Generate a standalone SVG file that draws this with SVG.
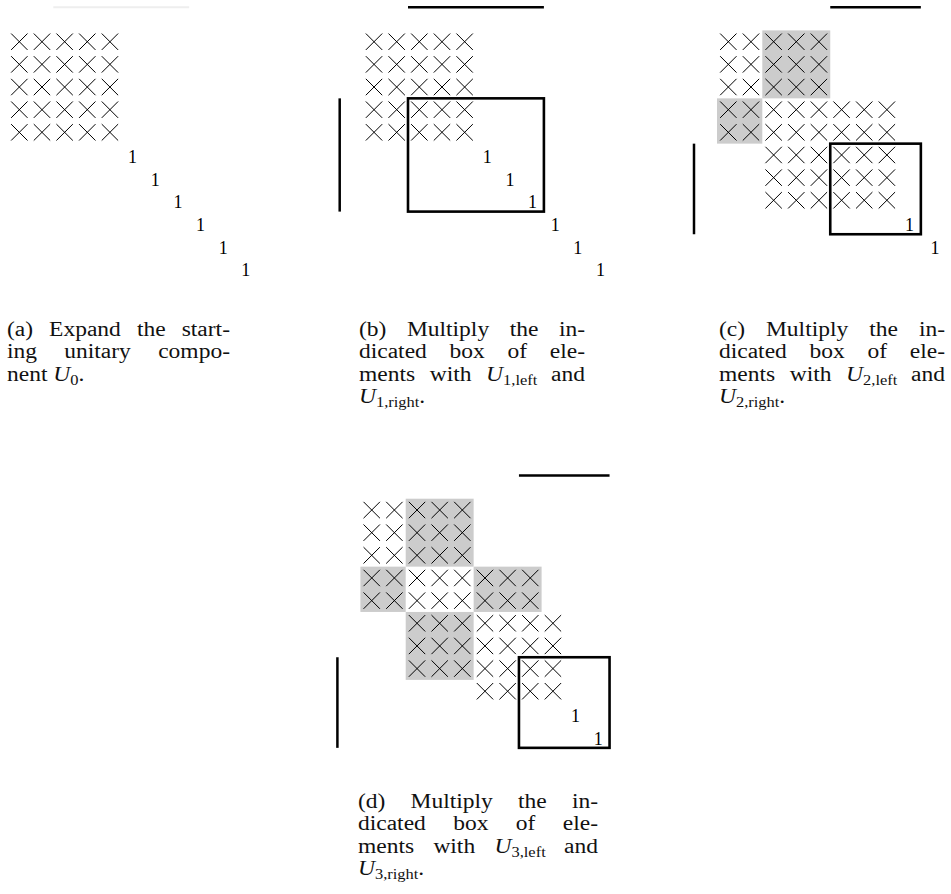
<svg xmlns="http://www.w3.org/2000/svg" width="951" height="894" viewBox="0 0 951 894">
<style>
.cross line{stroke:#000;stroke-width:1;stroke-linecap:butt}
.one{font-family:"Liberation Serif","Times New Roman",serif;font-size:18px;fill:#000;text-anchor:middle}
.cap{font-family:"Liberation Serif","Times New Roman",serif;font-size:20px;fill:#111}
.it{font-style:italic}
.sub{font-size:14px}
.bar{stroke:#000;stroke-width:2.5;fill:none}
.ghost{stroke:#eeeeee;stroke-width:2;fill:none}
.box{stroke:#000;stroke-width:2.6;fill:none}
.grey{fill:#cccccc;stroke:none}
</style>
<defs>
<g id="x" class="cross"><line x1="-8.2" y1="-8.2" x2="8.2" y2="8.2"/><line x1="-8.2" y1="8.2" x2="8.2" y2="-8.2"/></g>
<g id="r2"><use href="#x"/><use href="#x" x="22.65"/></g>
<g id="r3"><use href="#r2"/><use href="#x" x="45.3"/></g>
<g id="r4"><use href="#r3"/><use href="#x" x="67.95"/></g>
<g id="r5"><use href="#r4"/><use href="#x" x="90.6"/></g>
<g id="r6"><use href="#r5"/><use href="#x" x="113.25"/></g>
<g id="r7"><use href="#r6"/><use href="#x" x="135.9"/></g>
<g id="r8"><use href="#r7"/><use href="#x" x="158.55"/></g>
<g id="b5"><use href="#r5"/><use href="#r5" y="22.65"/><use href="#r5" y="45.3"/><use href="#r5" y="67.95"/><use href="#r5" y="90.6"/></g>
</defs>

<!-- Panel (a) -->
<g id="panel-a" transform="translate(8,30.4)">
  <line class="ghost" x1="45.3" y1="-23.1" x2="181.2" y2="-23.1"/>
  <use href="#b5" x="11.33" y="11.33"/>
  <text class="one" x="124.58" y="132.58">1</text>
  <text class="one" x="147.23" y="155.23">1</text>
  <text class="one" x="169.88" y="177.88">1</text>
  <text class="one" x="192.53" y="200.53">1</text>
  <text class="one" x="215.18" y="223.18">1</text>
  <text class="one" x="237.83" y="245.83">1</text>
</g>

<!-- Panel (b) -->
<g id="panel-b" transform="translate(362.7,30.4)">
  <use href="#b5" x="11.33" y="11.33"/>
  <text class="one" x="124.58" y="132.58">1</text>
  <text class="one" x="147.23" y="155.23">1</text>
  <text class="one" x="169.88" y="177.88">1</text>
  <text class="one" x="192.53" y="200.53">1</text>
  <text class="one" x="215.18" y="223.18">1</text>
  <text class="one" x="237.83" y="245.83">1</text>
  <rect class="box" x="45.3" y="67.95" width="135.9" height="113.25"/>
  <line class="bar" x1="45.3" y1="-23.1" x2="181.2" y2="-23.1"/>
  <line class="bar" x1="-23" y1="67.95" x2="-23" y2="181.2"/>
</g>

<!-- Panel (c) -->
<g id="panel-c" transform="translate(717,30.4)">
  <rect class="grey" x="45.3" y="0" width="67.95" height="67.95"/>
  <rect class="grey" x="0" y="67.95" width="45.3" height="45.3"/>
  <use href="#r5" x="11.33" y="11.33"/>
  <use href="#r5" x="11.33" y="33.98"/>
  <use href="#r5" x="11.33" y="56.63"/>
  <use href="#r8" x="11.33" y="79.28"/>
  <use href="#r8" x="11.33" y="101.93"/>
  <use href="#r6" x="56.63" y="124.58"/>
  <use href="#r6" x="56.63" y="147.23"/>
  <use href="#r6" x="56.63" y="169.88"/>
  <text class="one" x="192.53" y="200.53">1</text>
  <text class="one" x="218" y="223.18">1</text>
  <rect class="box" x="113.25" y="113.25" width="90.6" height="90.6"/>
  <line class="bar" x1="113.25" y1="-23.1" x2="203.85" y2="-23.1"/>
  <line class="bar" x1="-23" y1="113.25" x2="-23" y2="203.85"/>
</g>

<!-- Panel (d) -->
<g id="panel-d" transform="translate(360.4,498.7)">
  <rect class="grey" x="45.3" y="0" width="67.95" height="67.95"/>
  <rect class="grey" x="0" y="67.95" width="45.3" height="45.3"/>
  <rect class="grey" x="113.25" y="67.95" width="67.95" height="45.3"/>
  <rect class="grey" x="45.3" y="113.25" width="67.95" height="67.95"/>
  <use href="#r5" x="11.33" y="11.33"/>
  <use href="#r5" x="11.33" y="33.98"/>
  <use href="#r5" x="11.33" y="56.63"/>
  <use href="#r8" x="11.33" y="79.28"/>
  <use href="#r8" x="11.33" y="101.93"/>
  <use href="#r7" x="56.63" y="124.58"/>
  <use href="#r7" x="56.63" y="147.23"/>
  <use href="#r7" x="56.63" y="169.88"/>
  <use href="#r4" x="124.58" y="192.53"/>
  <text class="one" x="215.18" y="223.18">1</text>
  <text class="one" x="237.83" y="245.83">1</text>
  <rect class="box" x="158.55" y="158.55" width="90.6" height="90.6"/>
  <line class="bar" x1="158.55" y1="-23.1" x2="249.15" y2="-23.1"/>
  <line class="bar" x1="-23" y1="158.55" x2="-23" y2="249.15"/>
</g>

<!-- Captions (horizontally widened to match the reference face) -->
<g id="caption-a" class="cap" transform="scale(1.175,1)">
  <text y="336"><tspan x="5.96">(a)</tspan><tspan x="41.79">Expand</tspan><tspan x="116.6">the</tspan><tspan x="154.64">start-</tspan></text>
  <text y="358.4"><tspan x="5.96">ing</tspan><tspan x="54.72">unitary</tspan><tspan x="134.64">compo-</tspan></text>
  <text y="380.8"><tspan x="5.96">nent </tspan><tspan class="it">U</tspan><tspan class="sub" dy="4">0</tspan><tspan dy="-4">.</tspan></text>
</g>
<g id="caption-b" class="cap" transform="scale(1.175,1)">
  <text y="336"><tspan x="305.53">(b)</tspan><tspan x="346.3">Multiply</tspan><tspan x="433.79">the</tspan><tspan x="475.66">in-</tspan></text>
  <text y="358.4"><tspan x="305.53">dicated</tspan><tspan x="382.64">box</tspan><tspan x="431.91">of</tspan><tspan x="467.91">ele-</tspan></text>
  <text y="380.8"><tspan x="305.53">ments</tspan><tspan x="365.7">with</tspan><tspan x="413.7" class="it">U</tspan><tspan class="sub" dy="4">1,left</tspan><tspan x="469.02" dy="-4">and</tspan></text>
  <text y="403.2"><tspan x="305.53" class="it">U</tspan><tspan class="sub" dy="4">1,right</tspan><tspan dy="-4">.</tspan></text>
</g>
<g id="caption-c" class="cap" transform="scale(1.175,1)">
  <text y="336"><tspan x="611.91">(c)</tspan><tspan x="651.91">Multiply</tspan><tspan x="739.74">the</tspan><tspan x="782.04">in-</tspan></text>
  <text y="358.4"><tspan x="611.91">dicated</tspan><tspan x="689.02">box</tspan><tspan x="738.3">of</tspan><tspan x="774.3">ele-</tspan></text>
  <text y="380.8"><tspan x="611.91">ments</tspan><tspan x="672.09">with</tspan><tspan x="720.09" class="it">U</tspan><tspan class="sub" dy="4">2,left</tspan><tspan x="775.4" dy="-4">and</tspan></text>
  <text y="403.2"><tspan x="611.91" class="it">U</tspan><tspan class="sub" dy="4">2,right</tspan><tspan dy="-4">.</tspan></text>
</g>
<g id="caption-d" class="cap" transform="scale(1.175,1)">
  <text y="808"><tspan x="304.68">(d)</tspan><tspan x="349.45">Multiply</tspan><tspan x="440.85">the</tspan><tspan x="486.72">in-</tspan></text>
  <text y="830.4"><tspan x="304.68">dicated</tspan><tspan x="385.7">box</tspan><tspan x="438.98">of</tspan><tspan x="478.98">ele-</tspan></text>
  <text y="852.8"><tspan x="304.68">ments</tspan><tspan x="368.85">with</tspan><tspan x="420.85" class="it">U</tspan><tspan class="sub" dy="4">3,left</tspan><tspan x="480.09" dy="-4">and</tspan></text>
  <text y="875.2"><tspan x="304.68" class="it">U</tspan><tspan class="sub" dy="4">3,right</tspan><tspan dy="-4">.</tspan></text>
</g>
</svg>
